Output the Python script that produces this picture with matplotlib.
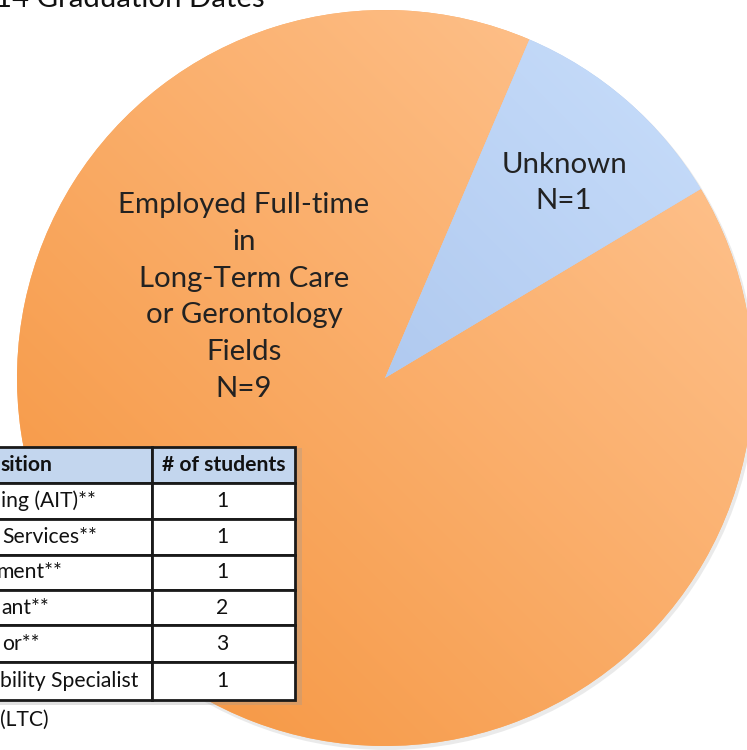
import numpy as np
import matplotlib
matplotlib.use("Agg")
import matplotlib.pyplot as plt
from matplotlib.patches import Rectangle, Circle

# ---- data ----
slice_labels = ["Employed Full-time\nin\nLong-Term Care\nor Gerontology\nFields\nN=9",
                "Unknown\nN=1"]
slice_values = [9, 1]
title_text = "14 Graduation Dates"
table_header = ["sition", "# of students"]
table_positions = ["ing (AIT)**", "Services**", "ment**", "ant**", "or**", "bility Specialist"]
table_counts = [1, 1, 1, 2, 3, 1]
footnote = "(LTC)"

plt.rcParams['font.family'] = ['Lato', 'DejaVu Sans']

W, H = 747, 750
fig = plt.figure(figsize=(W / 100, H / 100), dpi=100)
ax = fig.add_axes([0, 0, 1, 1])

cx, cy, R = 385, 372, 368

# subtle shadow of pie
ax.add_patch(Circle((cx + 2, cy - 3), R + 1, facecolor='#bbbbbb', edgecolor='none', alpha=0.3, zorder=0))

wedges, _ = ax.pie(slice_values, center=(cx, cy), radius=R, startangle=66.9,
                   counterclock=True, colors=['#FBAE6A', '#B3CDF2'],
                   wedgeprops=dict(linewidth=0), frame=True)

# gradients
ext = [cx - R, cx + R, cy - R, cy + R]
n = 400
xx, yy = np.meshgrid(np.linspace(0, 1, n), np.linspace(0, 1, n))
t = (xx + yy) / 2.0  # 0 lower-left -> 1 upper-right
t = t[::-1]  # image origin top

def grad(c0, c1):
    c0 = np.array(matplotlib.colors.to_rgb(c0))
    c1 = np.array(matplotlib.colors.to_rgb(c1))
    img = c0[None, None, :] * (1 - t[..., None]) + c1[None, None, :] * t[..., None]
    return img

grads = [grad('#F5923A', '#FFC796'), grad('#95B3E3', '#CBE0FC')]
for w, g in zip(wedges, grads):
    im = ax.imshow(g, extent=ext, zorder=1.5, interpolation='bilinear')
    im.set_clip_path(w)

ax.set_xlim(0, W)
ax.set_ylim(0, H)
ax.set_aspect('auto')
ax.axis('off')

txtc = '#222222'
ax.text(244, 750 - 297, slice_labels[0], ha='center', va='center', fontsize=21.2,
        color=txtc, linespacing=1.52, zorder=5)
ax.text(564, 750 - 183, slice_labels[1], ha='center', va='center', fontsize=21.2,
        color=txtc, linespacing=1.52, zorder=5)

# title (cut off at top)
ax.text(-5, 750 - 7, title_text, ha='left', va='baseline', fontsize=21.2, color='#111111', zorder=5)

# table
row_lines = [447, 483, 519, 555, 590, 625, 662, 700]
x_left, x_div, x_right = -20, 152, 295
# shadow
ax.add_patch(Rectangle((x_left + 3, 750 - row_lines[-1] - 5), x_right - x_left + 4, row_lines[-1] - row_lines[0] + 4,
                       facecolor='#999999', edgecolor='none', alpha=0.3, zorder=6))
for i in range(len(row_lines) - 1):
    top, bot = row_lines[i], row_lines[i + 1]
    fc = '#C3D6EE' if i == 0 else 'white'
    for (a, b) in [(x_left, x_div), (x_div, x_right)]:
        ax.add_patch(Rectangle((a, 750 - bot), b - a, bot - top, facecolor=fc,
                               edgecolor='#1a1a1a', linewidth=2, zorder=7))

fs = 15.2
hc = (row_lines[0] + row_lines[1]) / 2
ax.text(0, 750 - hc, table_header[0], ha='left', va='center', fontsize=fs,
        fontweight='bold', color='#111111', zorder=8)
ax.text((x_div + x_right) / 2, 750 - hc, table_header[1], ha='center', va='center', fontsize=fs,
        fontweight='bold', color='#111111', zorder=8)
xoffs = [1, 2, -4, 1, 2, 0]
for i, (p, c) in enumerate(zip(table_positions, table_counts)):
    yc = (row_lines[i + 1] + row_lines[i + 2]) / 2
    ax.text(xoffs[i], 750 - yc, p, ha='left', va='center', fontsize=fs, color='#111111', zorder=8)
    ax.text((x_div + x_right) / 2 - 1, 750 - yc, str(c), ha='center', va='center', fontsize=fs,
            color='#111111', zorder=8)

ax.text(0, 750 - 720, footnote, ha='left', va='center', fontsize=fs, color='#111111', zorder=8)

fig.savefig('out.png', dpi=100)
